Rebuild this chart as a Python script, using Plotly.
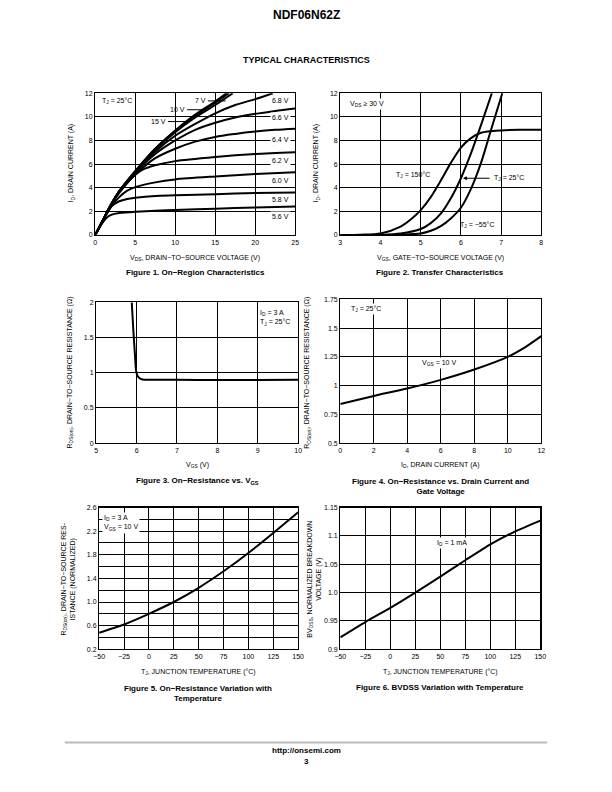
import plotly.graph_objects as go

W, H = 612, 792
FONT = "Liberation Sans"

# ---------------- Data ----------------
# Figure 1: On-region characteristics (ID vs VDS for various VGS)
f1_vgs_labels = ["15 V", "10 V", "7 V", "6.8 V", "6.6 V", "6.4 V", "6.2 V", "6.0 V", "5.8 V", "5.6 V"]
f1_x = {
    "15 V": [0, 1, 2, 3, 5, 7.5, 10, 12.5, 15, 16.4],
    "10 V": [0, 1, 2, 3, 5, 7.5, 10, 12.5, 15, 16.7],
    "7 V":  [0, 1, 2, 3, 5, 7.5, 10, 12.5, 15, 17.2],
    "6.8 V": [0, 1, 2, 3, 5, 7.5, 10, 12.5, 15, 17.5, 20, 22.2],
    "6.6 V": [0, 1, 2, 3, 5, 7.5, 10, 12.5, 15, 17.5, 20, 22.5, 25],
    "6.4 V": [0, 1, 2, 3, 5, 7.5, 10, 12.5, 15, 17.5, 20, 22.5, 25],
    "6.2 V": [0, 1, 2, 3, 4, 5, 6, 7.5, 10, 15, 20, 25],
    "6.0 V": [0, 1, 2, 3, 4, 5, 7.5, 10, 15, 20, 25],
    "5.8 V": [0, 1, 1.5, 2, 3, 4, 5, 7.5, 10, 15, 20, 25],
    "5.6 V": [0, 0.5, 1, 1.5, 2, 3, 5, 7.5, 10, 15, 20, 25],
}
f1_y = {
    "15 V": [0, 1.3, 2.6, 3.7, 5.4, 7.3, 8.85, 10.2, 11.3, 12.0],
    "10 V": [0, 1.3, 2.6, 3.7, 5.4, 7.3, 8.8, 10.1, 11.2, 12.0],
    "7 V":  [0, 1.3, 2.6, 3.7, 5.35, 7.2, 8.7, 9.95, 11.0, 12.0],
    "6.8 V": [0, 1.3, 2.6, 3.7, 5.3, 7.05, 8.4, 9.4, 10.3, 11.0, 11.5, 12.0],
    "6.6 V": [0, 1.3, 2.6, 3.7, 5.25, 6.85, 8.0, 8.9, 9.5, 9.95, 10.25, 10.5, 10.7],
    "6.4 V": [0, 1.3, 2.6, 3.65, 5.1, 6.5, 7.3, 7.9, 8.3, 8.55, 8.75, 8.9, 9.0],
    "6.2 V": [0, 1.3, 2.55, 3.55, 4.4, 5.1, 5.55, 5.9, 6.25, 6.6, 6.85, 7.0],
    "6.0 V": [0, 1.25, 2.4, 3.2, 3.75, 4.05, 4.45, 4.7, 4.95, 5.15, 5.3],
    "5.8 V": [0, 1.2, 1.9, 2.4, 2.85, 3.05, 3.15, 3.3, 3.35, 3.45, 3.55, 3.6],
    "5.6 V": [0, 0.6, 1.1, 1.5, 1.7, 1.85, 1.97, 2.05, 2.12, 2.22, 2.32, 2.4],
}

# Figure 2: Transfer characteristics (ID vs VGS)
f2_labels = ["150", "25", "-55"]
f2_x = {
    "150": [3, 3.5, 4, 4.5, 4.75, 5, 5.25, 5.5, 5.75, 6, 6.25, 6.5, 7, 7.5, 8],
    "25":  [3, 4, 4.5, 5, 5.25, 5.5, 5.75, 6, 6.25, 6.5, 6.77],
    "-55": [3, 4, 4.5, 5, 5.25, 5.5, 5.75, 6, 6.25, 6.5, 6.75, 7.03],
}
f2_y = {
    "150": [0, 0.02, 0.12, 0.7, 1.3, 2.1, 3.2, 4.6, 6.1, 7.4, 8.2, 8.65, 8.85, 8.9, 8.9],
    "25":  [0, 0.02, 0.12, 0.5, 1.0, 1.8, 3.1, 4.8, 6.9, 9.3, 12.0],
    "-55": [0, 0.0, 0.02, 0.12, 0.35, 0.75, 1.4, 2.3, 3.9, 6.1, 8.9, 12.0],
}

# Figure 3: On-resistance vs VGS
f3_x = [5.88, 5.92, 5.96, 5.99, 6.03, 6.08, 6.15, 6.3, 7, 8, 9, 10]
f3_y = [2.0, 1.6, 1.25, 1.02, 0.95, 0.92, 0.905, 0.9, 0.9, 0.895, 0.895, 0.9]

# Figure 4: On-resistance vs drain current
f4_x = [0, 2, 4, 6, 8, 10, 11, 12]
f4_y = [0.84, 0.91, 0.975, 1.05, 1.14, 1.25, 1.33, 1.43]

# Figure 5: On-resistance variation with temperature
f5_x = [-50, -25, 0, 25, 50, 75, 100, 125, 150]
f5_y = [0.48, 0.62, 0.8, 1.0, 1.24, 1.52, 1.83, 2.17, 2.52]

# Figure 6: BVDSS variation with temperature
f6_x = [-50, -25, 0, 25, 50, 75, 100, 125, 150]
f6_y = [0.921, 0.948, 0.973, 1.0, 1.028, 1.057, 1.085, 1.108, 1.127]

# Tick labels
f1_xt = [0, 5, 10, 15, 20, 25]
f1_yt = [0, 2, 4, 6, 8, 10, 12]
f2_xt = [3, 4, 5, 6, 7, 8]
f3_xt = [5, 6, 7, 8, 9, 10]
f3_yt = [0, 0.5, 1, 1.5, 2]
f3_ytext = ["0", "0.5", "1", "1.5", "2"]
f4_xt = [0, 2, 4, 6, 8, 10, 12]
f4_yt = [0.5, 0.75, 1, 1.25, 1.5, 1.75]
f4_ytext = ["0.5", "0.75", "1", "1.25", "1.5", "1.75"]
f5_xt = [-50, -25, 0, 25, 50, 75, 100, 125, 150]
f5_xtext = ["−50", "−25", "0", "25", "50", "75", "100", "125", "150"]
f5_yt = [0.2, 0.4, 0.6, 0.8, 1.0, 1.2, 1.4, 1.6, 1.8, 2.0, 2.2, 2.4, 2.6]
f5_ytext = ["0.2", "", "0.6", "", "1.0", "", "1.4", "", "1.8", "", "2.2", "", "2.6"]
f6_yt = [0.9, 0.95, 1.0, 1.05, 1.1, 1.15]
f6_ytext = ["0.9", "0.95", "1.0", "1.05", "1.1", "1.15"]

# ---------------- Layout helpers ----------------
def px(x):
    return x / W

def py(y):
    return 1 - y / H

# plot areas in page pixels: (left, right, top, bottom)
areas = [
    (91, 295, 90, 233),
    (341, 546, 90, 233),
    (92, 298, 301, 443),
    (341, 546, 298, 443),
    (95, 298, 508, 651),
    (341, 545, 508, 651),
]

fig = go.Figure()
LINE = dict(color="black", width=2)

def ax_name(i, kind):
    return kind + ("" if i == 1 else str(i))

for lab in f1_vgs_labels:
    fig.add_trace(go.Scatter(x=f1_x[lab], y=f1_y[lab], mode="lines", line=dict(shape="spline", smoothing=0.8, **LINE),
                             xaxis="x", yaxis="y", showlegend=False, hoverinfo="skip"))
for lab in f2_labels:
    fig.add_trace(go.Scatter(x=f2_x[lab], y=f2_y[lab], mode="lines", line=dict(shape="spline", smoothing=0.8, **LINE),
                             xaxis="x2", yaxis="y2", showlegend=False, hoverinfo="skip"))
for i, (xs, ys) in enumerate([(f3_x, f3_y), (f4_x, f4_y), (f5_x, f5_y), (f6_x, f6_y)], start=3):
    fig.add_trace(go.Scatter(x=xs, y=ys, mode="lines", line=dict(shape="spline", smoothing=0.6, **LINE),
                             xaxis="x%d" % i, yaxis="y%d" % i, showlegend=False, hoverinfo="skip"))

ranges = [
    ((0, 25), (0, 12), f1_xt, None, f1_yt, None),
    ((3, 8), (0, 12), f2_xt, None, f1_yt, None),
    ((5, 10), (0, 2), f3_xt, None, f3_yt, f3_ytext),
    ((0, 12), (0.5, 1.75), f4_xt, None, f4_yt, f4_ytext),
    ((-50, 150), (0.2, 2.6), f5_xt, f5_xtext, f5_yt, f5_ytext),
    ((-50, 150), (0.9, 1.15), f5_xt, f5_xtext, f6_yt, f6_ytext),
]

layout = {}
TICKF = dict(family=FONT, size=7, color="black")
for i, (area, rg) in enumerate(zip(areas, ranges), start=1):
    l, r, t, b = area
    xr, yr, xt, xtt, yt, ytt = rg
    common = dict(showline=True, mirror=True, linecolor="black", linewidth=1.2,
                  showgrid=True, gridcolor="black", gridwidth=1, zeroline=False,
                  ticks="", tickfont=TICKF, fixedrange=True)
    xa = dict(domain=[px(l), px(r)], range=list(xr), tickvals=xt, anchor=ax_name(i, "y"), **common)
    if xtt is not None:
        xa["ticktext"] = xtt
    ya = dict(domain=[py(b), py(t)], range=list(yr), tickvals=yt, anchor=ax_name(i, "x"), **common)
    if ytt is not None:
        ya["ticktext"] = ytt
    layout[ax_name(i, "xaxis")] = xa
    layout[ax_name(i, "yaxis")] = ya

fig.update_layout(**layout)

ann = []
TF = dict(family=FONT, size=7, color="black")

def page_text(x, y, text, size=7, bold=False, angle=0, align="center"):
    t = "<b>%s</b>" % text if bold else text
    ann.append(dict(x=px(x), y=py(y), xref="paper", yref="paper", text=t, showarrow=False,
                    textangle=angle, align=align, xanchor="center", yanchor="middle",
                    font=dict(family=FONT, size=size, color="black")))

# Page headers / footers
page_text(306, 11, "NDF06N62Z", size=12, bold=True)
page_text(306, 56, "TYPICAL CHARACTERISTICS", size=9, bold=True)
page_text(306, 753, "http://onsemi.com", size=8, bold=True)
page_text(306, 764, "3", size=8, bold=True)

# Axis titles
page_text(193, 256, "V<sub>DS</sub>, DRAIN−TO−SOURCE VOLTAGE (V)")
page_text(66, 161, "I<sub>D</sub>, DRAIN CURRENT (A)", angle=-90)
page_text(443, 256, "V<sub>GS</sub>, GATE−TO−SOURCE VOLTAGE (V)")
page_text(316, 161, "I<sub>D</sub>, DRAIN CURRENT (A)", angle=-90)
page_text(195, 465, "V<sub>GS</sub> (V)")
page_text(65, 372, "R<sub>DS(on)</sub>, DRAIN−TO−SOURCE RESISTANCE (Ω)", angle=-90)
page_text(443, 465, "I<sub>D</sub>, DRAIN CURRENT (A)")
page_text(307, 372, "R<sub>DS(on)</sub>, DRAIN−TO−SOURCE RESISTANCE (Ω)", angle=-90)
page_text(196, 674, "T<sub>J</sub>, JUNCTION TEMPERATURE (°C)")
page_text(64, 580, "R<sub>DS(on)</sub>, DRAIN−TO−SOURCE RES-<br>ISTANCE (NORMALIZED)", angle=-90)
page_text(443, 674, "T<sub>J</sub>, JUNCTION TEMPERATURE (°C)")
page_text(315, 580, "BV<sub>DSS</sub>, NORMALIZED BREAKDOWN<br>VOLTAGE (V)", angle=-90)

# Captions
page_text(193, 271, "Figure 1. On−Region Characteristics", size=8, bold=True)
page_text(443, 271, "Figure 2. Transfer Characteristics", size=8, bold=True)
page_text(195, 481, "Figure 3. On−Resistance vs. V<sub>GS</sub>", size=8, bold=True)
page_text(443, 487, "Figure 4. On−Resistance vs. Drain Current and<br>Gate Voltage", size=8, bold=True)
page_text(196, 696, "Figure 5. On−Resistance Variation with<br>Temperature", size=8, bold=True)
page_text(443, 690, "Figure 6. BVDSS Variation with Temperature", size=8, bold=True)

def data_text(i, x, y, text, xanchor="center", bg="white", align="center"):
    ann.append(dict(x=x, y=y, xref=ax_name(i, "x"), yref=ax_name(i, "y"), text=text, showarrow=False,
                    xanchor=xanchor, yanchor="middle", align=align, bgcolor=bg, borderpad=1,
                    font=TF))

def leader(i, x, y, tipx, tipy, head=0):
    ann.append(dict(x=tipx, y=tipy, xref=ax_name(i, "x"), yref=ax_name(i, "y"), text="", showarrow=True,
                    ax=x, ay=y, axref=ax_name(i, "x"), ayref=ax_name(i, "y"),
                    arrowhead=head, arrowsize=0.8, arrowwidth=1, arrowcolor="black", standoff=0))

# Figure 1 annotations
data_text(1, 0.6, 11.35, "T<sub>J</sub> = 25°C", xanchor="left")
for lab, yy in [("6.8 V", 11.35), ("6.6 V", 9.95), ("6.4 V", 8.1), ("6.2 V", 6.3),
                ("6.0 V", 4.6), ("5.8 V", 3.0), ("5.6 V", 1.57)]:
    data_text(1, 23.2, yy, lab)
data_text(1, 13.1, 11.35, "7 V", bg="rgba(0,0,0,0)")
leader(1, 13.9, 11.35, 16.3, 11.35)
data_text(1, 10.3, 10.6, "10 V", bg="rgba(0,0,0,0)")
leader(1, 11.3, 10.6, 13.6, 10.6)
data_text(1, 7.9, 9.6, "15 V", bg="rgba(0,0,0,0)")
leader(1, 8.9, 9.6, 11.5, 9.6)

# Figure 2 annotations
data_text(2, 3.2, 11.1, "V<sub>DS</sub> ≥ 30 V", xanchor="left")
data_text(2, 4.82, 5.1, "T<sub>J</sub> = 150°C", bg="rgba(0,0,0,0)")
data_text(2, 6.78, 4.8, "T<sub>J</sub> = 25°C", xanchor="left", bg="rgba(0,0,0,0)")
leader(2, 6.75, 4.8, 6.05, 4.8, head=2)
data_text(2, 6.4, 0.85, "T<sub>J</sub> = −55°C", bg="rgba(0,0,0,0)")

# Figure 3 annotations
data_text(3, 9.0, 1.78, "I<sub>D</sub> = 3 A<br>T<sub>J</sub> = 25°C", xanchor="left", align="left")

# Figure 4 annotations
data_text(4, 0.5, 1.67, "T<sub>J</sub> = 25°C", xanchor="left")
data_text(4, 5.9, 1.2, "V<sub>GS</sub> = 10 V")

# Figure 5 annotations
data_text(5, -47, 2.33, "I<sub>D</sub> = 3 A<br>V<sub>GS</sub> = 10 V", xanchor="left", align="left")

# Figure 6 annotations
data_text(6, 62, 1.088, "I<sub>D</sub> = 1 mA")

fig.update_layout(
    width=W, height=H, margin=dict(l=0, r=0, t=0, b=0),
    paper_bgcolor="white", plot_bgcolor="white",
    font=dict(family=FONT, color="black"),
    annotations=ann,
    shapes=[dict(type="line", xref="paper", yref="paper", x0=px(60), x1=px(552), y0=py(745), y1=py(745),
                 line=dict(color="#bbbbbb", width=2))],
)

# remove the default page margin so the 612x792 figure fills the window exactly
fig.write_html("out.html", config={"displayModeBar": False, "staticPlot": True},
               post_script="document.body.style.margin='0';document.documentElement.style.overflow='hidden';")
